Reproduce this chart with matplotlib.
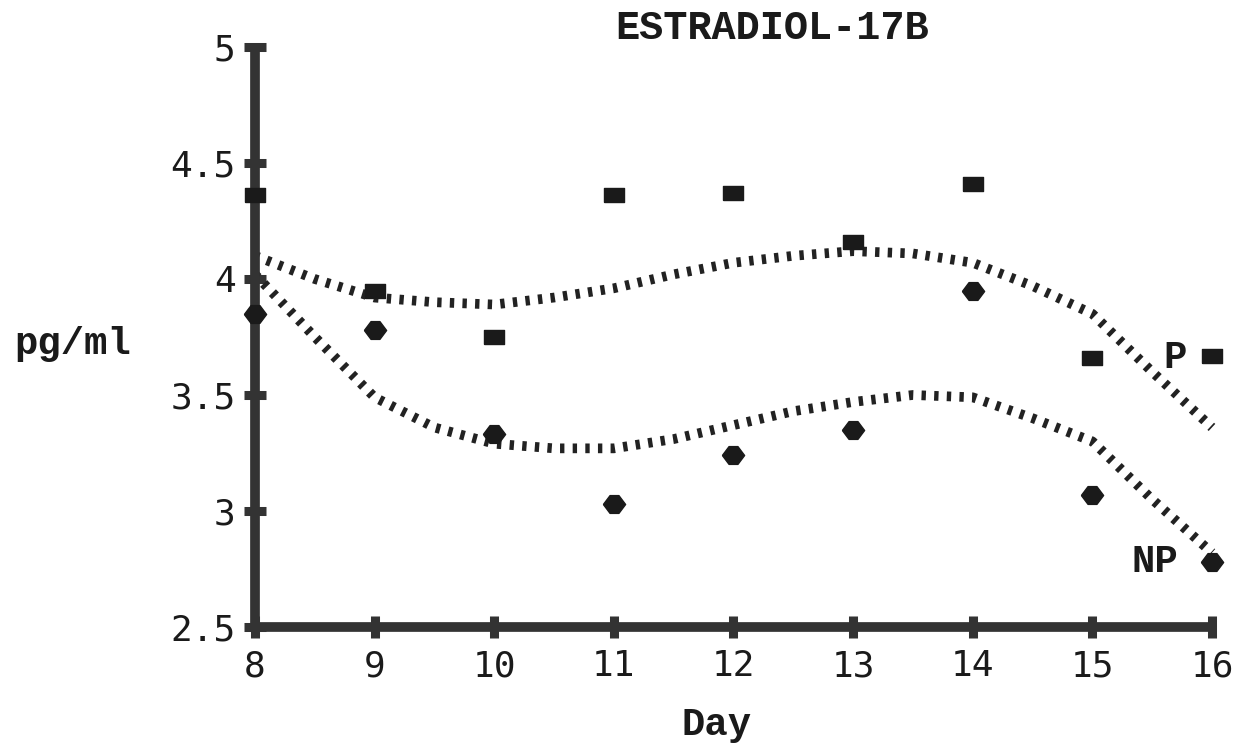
import matplotlib
matplotlib.use("Agg")
import matplotlib.pyplot as plt

# ---- data ----
days = [8, 9, 10, 11, 12, 13, 14, 15, 16]
p_values = [4.36, 3.95, 3.75, 4.36, 4.37, 4.16, 4.41, 3.66, 3.67]
np_values = [3.85, 3.78, 3.33, 3.03, 3.24, 3.35, 3.95, 3.07, 2.78]

fit_days = [8, 8.5, 9, 9.5, 10, 10.5, 11, 11.5, 12, 12.5, 13, 13.5, 14, 14.5, 15, 15.5, 16]
p_fit = [4.10, 4.00, 3.92, 3.90, 3.89, 3.92, 3.96, 4.02, 4.07, 4.10, 4.12, 4.11, 4.07, 3.97, 3.85, 3.60, 3.36]
np_fit = [4.02, 3.75, 3.49, 3.36, 3.29, 3.27, 3.27, 3.31, 3.37, 3.43, 3.47, 3.50, 3.49, 3.40, 3.30, 3.05, 2.82]

x_ticks = [8, 9, 10, 11, 12, 13, 14, 15, 16]
y_ticks = [2.5, 3, 3.5, 4, 4.5, 5]
y_tick_labels = ["2.5", "3", "3.5", "4", "4.5", "5"]

title = "ESTRADIOL-17B"
xlabel = "Day"
ylabel = "pg/ml"

# ---- figure ----
fig = plt.figure(figsize=(12.4, 7.44), dpi=100)
ax = fig.add_axes([0.2056, 0.1573, 0.7718, 0.7795])

ink = "#1a1a1a"
rect = [(-1, -0.68), (1, -0.68), (1, 0.68), (-1, 0.68), (-1, -0.68)]
diam = [(-1, 0), (-0.4, 0.8), (0.4, 0.8), (1, 0), (0.4, -0.8), (-0.4, -0.8), (-1, 0)]

for fit in (p_fit, np_fit):
    ax.plot(fit_days, fit, color="#222222", lw=7, dashes=(0.45, 0.85),
            dash_capstyle="butt", solid_capstyle="butt", clip_on=False)

ax.plot(days, p_values, linestyle="none", marker=rect, markersize=14, color=ink,
        clip_on=False, zorder=5)
ax.plot(days, np_values, linestyle="none", marker=diam, markersize=16, color=ink,
        clip_on=False, zorder=5)

ax.text(15.69, 3.66, "P", fontsize=28, family="Liberation Mono", fontweight="bold",
        ha="center", va="center", color=ink)
ax.text(15.52, 2.78, "NP", fontsize=28, family="Liberation Mono", fontweight="bold",
        ha="center", va="center", color=ink)

ax.set_xlim(8, 16)
ax.set_ylim(2.5, 5)
ax.set_xticks(x_ticks)
ax.set_yticks(y_ticks)
ax.set_yticklabels(y_tick_labels)

for s in ["top", "right"]:
    ax.spines[s].set_visible(False)
for s in ["left", "bottom"]:
    ax.spines[s].set_linewidth(7)
    ax.spines[s].set_color("#333333")
    ax.spines[s].set_capstyle("butt")

ax.tick_params(direction="inout", length=16, width=6.5, color="#333333",
               labelsize=26, labelcolor=ink)
ax.tick_params(axis="x", pad=8)
ax.tick_params(axis="y", pad=6)
for lab in ax.get_xticklabels() + ax.get_yticklabels():
    lab.set_family("DejaVu Sans Mono")

fig.text(0.623, 0.963, title, fontsize=29, family="Liberation Mono", fontweight="bold",
         ha="center", va="center", color=ink)
fig.text(0.578, 0.025, xlabel, fontsize=28, family="Liberation Mono", fontweight="bold",
         ha="center", va="center", color=ink)
fig.text(0.059, 0.538, ylabel, fontsize=28, family="Liberation Mono", fontweight="bold",
         ha="center", va="center", color=ink)

fig.savefig("out.png", dpi=100, facecolor="white")
